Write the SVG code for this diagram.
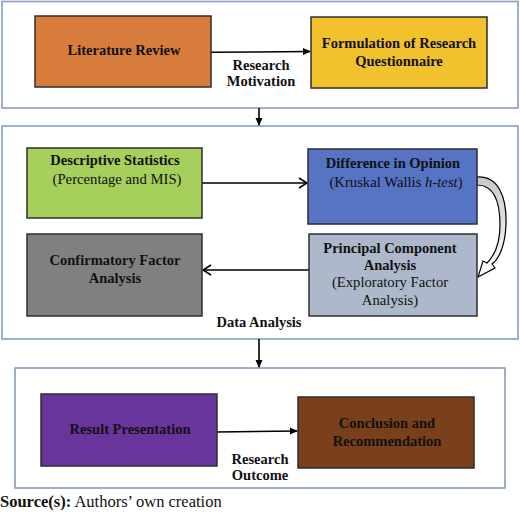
<svg xmlns="http://www.w3.org/2000/svg" width="520" height="519" viewBox="0 0 520 519">
<style>
.frame{fill:#fff;stroke:#8a9cc4;stroke-width:1.6}
.box{stroke:#2e2e2e;stroke-width:1.5}
text{font-family:'Liberation Serif','Times New Roman',Tinos,'DejaVu Serif',serif}
.b{font-weight:bold;font-size:14.5px;fill:#111;text-anchor:middle}
.r{font-size:14.7px;fill:#111;text-anchor:middle}
.line{stroke:#000;stroke-width:1.6;fill:none}
</style>
<defs>
<marker id="ah" markerWidth="8" markerHeight="8" refX="7" refY="4" orient="auto" markerUnits="userSpaceOnUse">
<path d="M0,0.5 L8,4 L0,7.5 Z" fill="#000"/>
</marker>
<marker id="oh" markerWidth="10" markerHeight="12" refX="9" refY="6" orient="auto" markerUnits="userSpaceOnUse">
<path d="M1,1 L9,6 L1,11" fill="none" stroke="#000" stroke-width="1.6"/>
</marker>
<linearGradient id="g" x1="0" y1="0" x2="0" y2="1">
<stop offset="0" stop-color="#c8c8c8"/>
<stop offset="1" stop-color="#ffffff"/>
</linearGradient>
</defs>
<rect width="520" height="519" fill="#fff"/>
<g id="frames">
<rect id="frame-top" class="frame" x="2" y="1.5" width="516" height="106.5"/>
<rect id="frame-mid" class="frame" x="2" y="126" width="516" height="213"/>
<rect id="frame-bottom" class="frame" x="15" y="368" width="490" height="120"/>
</g>
<g id="connectors">
<line class="line" x1="211" y1="52.3" x2="310" y2="51.5" marker-end="url(#ah)"/>
<line class="line" x1="259" y1="108" x2="259" y2="125" marker-end="url(#ah)"/>
<line class="line" x1="202" y1="183" x2="307" y2="183" marker-end="url(#oh)"/>
<line class="line" x1="309" y1="270" x2="203" y2="270" marker-end="url(#oh)"/>
<line class="line" x1="259" y1="339" x2="259" y2="367" marker-end="url(#ah)"/>
<line class="line" x1="217" y1="432" x2="297" y2="431" marker-end="url(#ah)"/>
<path id="curved-arrow" d="M477,177 C498,176 507,196 506,225 C505,246 499,259 492,264 L495,268 L478,277 L483,261 L487,263 C494,256 500,244 500,225 C500,199 493,185 477,185 Z" fill="url(#g)" stroke="#000" stroke-width="1.2"/>
</g>
<g id="labels">
<text class="b" x="261" y="70">Research</text>
<text class="b" x="261" y="86">Motivation</text>
<text class="b" x="259" y="327">Data Analysis</text>
<text class="b" x="260" y="464">Research</text>
<text class="b" x="260" y="480">Outcome</text>
</g>
<g id="literature-review">
<rect class="box" x="35" y="16" width="176" height="71" fill="#d87c3b"/>
<text class="b" x="124" y="55">Literature Review</text>
</g>
<g id="formulation">
<rect class="box" x="311" y="17" width="176" height="71" fill="#f2c12e"/>
<text class="b" x="399" y="48">Formulation of Research</text>
<text class="b" x="399" y="66">Questionnaire</text>
</g>
<g id="descriptive-statistics">
<rect class="box" x="27" y="148" width="175" height="70" fill="#a6cf5b"/>
<text class="b" x="115" y="165">Descriptive Statistics</text>
<text class="r" x="117" y="184">(Percentage and MIS)</text>
</g>
<g id="difference-in-opinion">
<rect class="box" x="308" y="149" width="169" height="75" fill="#5673c4"/>
<text class="b" x="393" y="168">Difference in Opinion</text>
<text class="r" x="396" y="187">(Kruskal Wallis <tspan font-style="italic">h-test</tspan>)</text>
</g>
<g id="confirmatory-factor-analysis">
<rect class="box" x="27" y="234" width="175" height="82" fill="#808080"/>
<text class="b" x="115" y="265">Confirmatory Factor</text>
<text class="b" x="115" y="283">Analysis</text>
</g>
<g id="principal-component-analysis">
<rect class="box" x="309" y="234" width="168" height="82" fill="#adb9ca"/>
<text class="b" x="390" y="253">Principal Component</text>
<text class="b" x="390" y="270">Analysis</text>
<text class="r" x="390" y="287">(Exploratory Factor</text>
<text class="r" x="390" y="305">Analysis)</text>
</g>
<g id="result-presentation">
<rect class="box" x="41" y="394" width="176" height="72" fill="#67359c"/>
<text class="b" x="130" y="434">Result Presentation</text>
</g>
<g id="conclusion">
<rect class="box" x="298" y="397" width="176" height="71" fill="#7a3f1b"/>
<text class="b" x="387" y="428">Conclusion and</text>
<text class="b" x="387" y="446">Recommendation</text>
</g>
<text x="0" y="507" font-size="16.5px" fill="#111"><tspan font-weight="bold">Source(s):</tspan> Authors’ own creation</text>
</svg>
